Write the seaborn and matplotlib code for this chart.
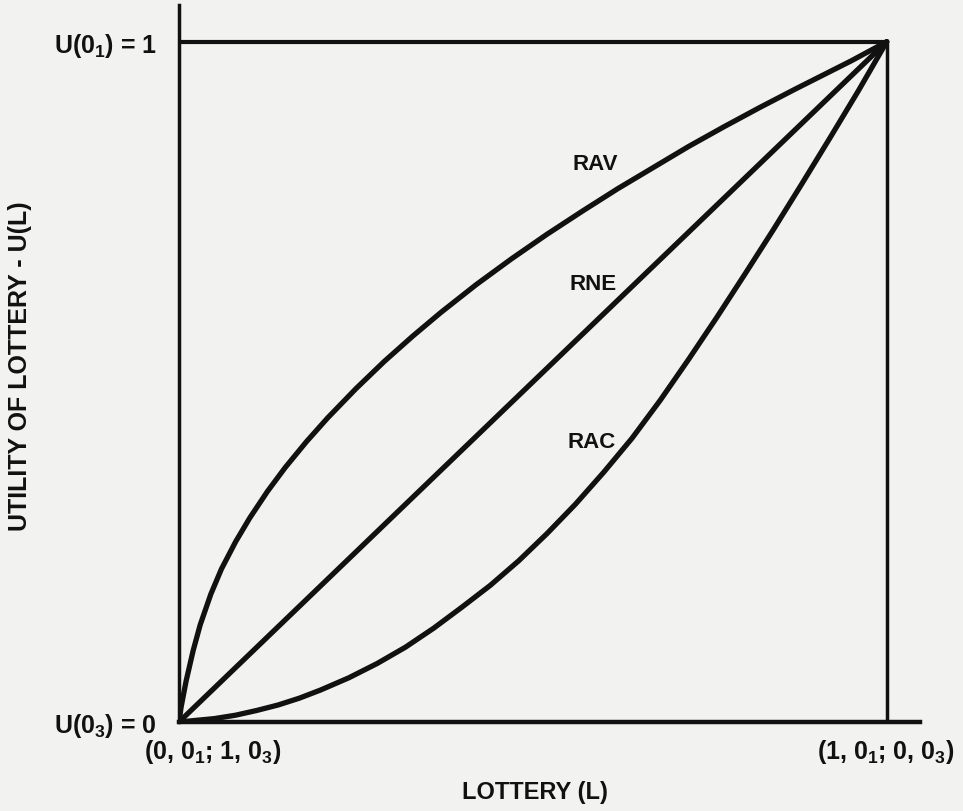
import matplotlib
matplotlib.use('Agg')
import matplotlib.pyplot as plt
import seaborn as sns
import pandas as pd

# utility curves (x = lottery, y = utility)
rav_x = [0.0, 0.003, 0.01, 0.02, 0.03, 0.045, 0.06, 0.08, 0.10, 0.125, 0.15, 0.18, 0.21, 0.25, 0.29,
         0.33, 0.37, 0.42, 0.47, 0.52, 0.57, 0.62, 0.67, 0.72, 0.77, 0.82, 0.87, 0.91, 0.95, 1.0]
rav_u = [0.0, 0.022, 0.060, 0.105, 0.143, 0.188, 0.225, 0.265, 0.300, 0.339, 0.374, 0.412, 0.447, 0.490, 0.530,
         0.567, 0.602, 0.643, 0.681, 0.717, 0.751, 0.784, 0.815, 0.846, 0.875, 0.903, 0.930, 0.951, 0.972, 1.0]

rne_x = [0.0, 0.5, 1.0]
rne_u = [0.0, 0.5, 1.0]

rac_x = [0.0, 0.02, 0.05, 0.08, 0.11, 0.14, 0.17, 0.20, 0.24, 0.28, 0.32, 0.36, 0.40, 0.44,
         0.48, 0.52, 0.56, 0.60, 0.64, 0.68, 0.72, 0.76, 0.80, 0.84, 0.88, 0.92, 0.96, 1.0]
rac_u = [0.0, 0.002, 0.005, 0.010, 0.017, 0.025, 0.035, 0.047, 0.065, 0.086, 0.110, 0.138, 0.169, 0.201,
         0.237, 0.277, 0.320, 0.367, 0.417, 0.473, 0.533, 0.595, 0.659, 0.724, 0.791, 0.859, 0.928, 1.0]

curve_names = ['RAV', 'RNE', 'RAC']
label_pos = {'RAV': (0.588, 0.821), 'RNE': (0.585, 0.644), 'RAC': (0.583, 0.413)}

ytick_labels = [r'U(0$_3$) = 0', r'U(0$_1$) = 1']
xtick_labels = [r'(0, 0$_1$; 1, 0$_3$)', r'(1, 0$_1$; 0, 0$_3$)']

df = pd.concat([
    pd.DataFrame({'lottery': rav_x, 'utility': rav_u, 'curve': 'RAV'}),
    pd.DataFrame({'lottery': rne_x, 'utility': rne_u, 'curve': 'RNE'}),
    pd.DataFrame({'lottery': rac_x, 'utility': rac_u, 'curve': 'RAC'}),
], ignore_index=True)

sns.set_style('white')
plt.rcParams['font.family'] = ['Liberation Sans', 'DejaVu Sans']
plt.rcParams['font.weight'] = 'bold'
plt.rcParams['mathtext.fontset'] = 'custom'
plt.rcParams['mathtext.rm'] = 'Liberation Sans:bold'
plt.rcParams['mathtext.it'] = 'Liberation Sans:bold'
plt.rcParams['mathtext.bf'] = 'Liberation Sans:bold'

ink = '#111111'
paper = '#f2f2f1'

fig = plt.figure(figsize=(9.63, 8.12), dpi=100, facecolor=paper)
ax = fig.add_axes([179/963, 1 - 723/812, 741/963, 717/812])
ax.set_facecolor(paper)

for name in curve_names:
    sub = df[df['curve'] == name]
    sns.lineplot(data=sub, x='lottery', y='utility', ax=ax, sort=False,
                 color=ink, lw=3.8, estimator=None,
                 solid_joinstyle='round', solid_capstyle='round')
    ax.text(*label_pos[name], name, ha='center', va='center',
            fontsize=16, fontweight='bold', color=ink)

# frame of the unit square
ax.hlines(1, 0, 1, color=ink, lw=3.0)
ax.vlines(1, 0, 1, color=ink, lw=2.5)

ax.set_xlim(0, 1.047)
ax.set_ylim(0, 1.054)
sns.despine(ax=ax)
ax.spines['left'].set_linewidth(2.5)
ax.spines['bottom'].set_linewidth(3.2)
ax.spines['left'].set_color(ink)
ax.spines['bottom'].set_color(ink)

ax.set_yticks([0, 1])
ax.set_yticklabels(ytick_labels, fontsize=18, fontweight='bold', color=ink)
ax.tick_params(axis='y', length=0, pad=16)
ax.set_xticks([])

for xv, lab in zip([0.047, 0.999], xtick_labels):
    ax.text(xv, -0.043, lab, ha='center', va='center', fontsize=18,
            fontweight='bold', color=ink)

ax.set_xlabel('LOTTERY (L)', fontsize=17, fontweight='bold', color=ink)
ax.xaxis.set_label_coords(0.48, -0.081)
ax.set_ylabel('UTILITY OF LOTTERY - U(L)', fontsize=18, fontweight='bold', color=ink)
ax.yaxis.set_label_coords(-0.198, 0.498)

fig.savefig('out.png', dpi=100, facecolor=paper)
